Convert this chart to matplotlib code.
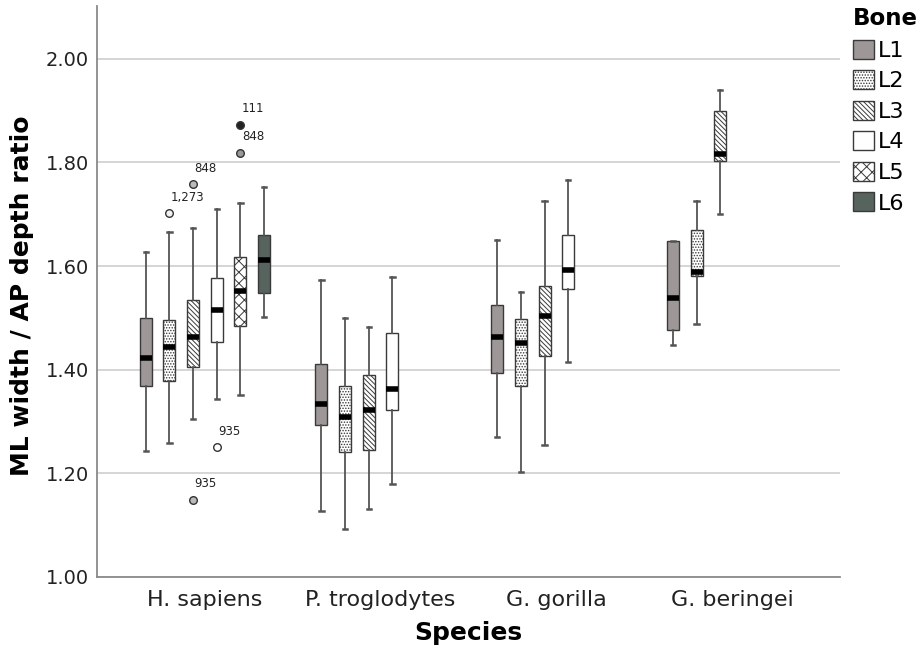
import numpy as np
import matplotlib
matplotlib.use("Agg")
import matplotlib.pyplot as plt
from matplotlib.patches import Patch

species = ["H. sapiens", "P. troglodytes", "G. gorilla", "G. beringei"]
bones = ["L1", "L2", "L3", "L4", "L5", "L6"]

# box stats, one row per bone, one column per species (nan = no data)
nan = np.nan
whisker_low = [
    [1.244, 1.128, 1.270, 1.448],
    [1.259, 1.092, 1.202, 1.488],
    [1.304, 1.131, 1.254, 1.701],
    [1.343, 1.179, 1.414, nan],
    [1.352, nan, nan, nan],
    [1.502, nan, nan, nan],
]
q1 = [
    [1.369, 1.294, 1.394, 1.477],
    [1.378, 1.242, 1.368, 1.581],
    [1.406, 1.245, 1.427, 1.802],
    [1.453, 1.322, 1.556, nan],
    [1.484, nan, nan, nan],
    [1.549, nan, nan, nan],
]
median = [
    [1.422, 1.334, 1.463, 1.539],
    [1.444, 1.309, 1.452, 1.589],
    [1.464, 1.322, 1.504, 1.816],
    [1.516, 1.363, 1.592, nan],
    [1.552, nan, nan, nan],
    [1.611, nan, nan, nan],
]
q3 = [
    [1.500, 1.412, 1.525, 1.648],
    [1.496, 1.369, 1.498, 1.669],
    [1.535, 1.389, 1.561, 1.900],
    [1.578, 1.470, 1.660, nan],
    [1.617, nan, nan, nan],
    [1.661, nan, nan, nan],
]
whisker_high = [
    [1.627, 1.574, 1.650, 1.649],
    [1.666, 1.500, 1.551, 1.725],
    [1.673, 1.482, 1.725, 1.940],
    [1.711, 1.579, 1.767, nan],
    [1.721, nan, nan, nan],
    [1.752, nan, nan, nan],
]

# labelled outliers (all H. sapiens)
outlier_species = [0, 0, 0, 0, 0, 0]
outlier_bone = [1, 2, 2, 3, 4, 4]
outlier_value = [1.702, 1.758, 1.149, 1.250, 1.872, 1.818]
outlier_label = ["1,273", "848", "935", "935", "111", "848"]
outlier_extreme = [False, False, False, False, True, False]

face_colors = ["#9e9797", "white", "white", "white", "white", "#57635d"]
hatches = [None, "......", "\\\\\\\\\\\\\\", None, "xxx", None]
flier_faces = ["#9e9797", "#f2f2f2", "#bbbbbb", "white", "#999999", "#57635d"]

plt.rcParams["hatch.linewidth"] = 0.7
plt.rcParams["font.family"] = "DejaVu Sans"

fig = plt.figure(figsize=(9.22, 6.54), dpi=100)
ax = fig.add_axes([97 / 922, 77 / 654, 743 / 922, 571 / 654])

slot = 0.1347
box_w = 0.068
cap_w = 0.024

for k, bone in enumerate(bones):
    stats, pos = [], []
    for i in range(len(species)):
        if np.isnan(median[k][i]):
            continue
        stats.append(dict(med=median[k][i], q1=q1[k][i], q3=q3[k][i],
                          whislo=whisker_low[k][i], whishi=whisker_high[k][i],
                          fliers=[]))
        pos.append(i + (k - 2.5) * slot)
    ax.bxp(stats, positions=pos, widths=box_w, capwidths=cap_w,
           patch_artist=True, showfliers=False, manage_ticks=False,
           boxprops=dict(facecolor=face_colors[k], edgecolor="#3a3a3a",
                         hatch=hatches[k], linewidth=1.0),
           medianprops=dict(color="black", linewidth=4, solid_capstyle="butt"),
           whiskerprops=dict(color="#555555", linewidth=1.3),
           capprops=dict(color="#555555", linewidth=1.8),
           zorder=3)

for s, b, v, lab, ext in zip(outlier_species, outlier_bone, outlier_value,
                             outlier_label, outlier_extreme):
    x = s + (b - 2.5) * slot
    fc = "#222222" if ext else flier_faces[b]
    ax.scatter(x, v, s=30, marker="o", facecolor=fc,
               edgecolor="#333333", linewidth=1.0, zorder=4)
    ax.annotate(lab, (x, v), xytext=(1, 7), textcoords="offset points",
                fontsize=8.5, ha="left", va="bottom", color="#222222")

ax.set_xlim(-0.614, 3.614)
ax.set_ylim(1.0, 2.102)
ax.set_yticks(np.arange(1.0, 2.01, 0.2))
ax.set_yticklabels([f"{t:.2f}" for t in np.arange(1.0, 2.01, 0.2)])
ax.set_xticks(range(len(species)))
ax.set_xticklabels(species)
ax.tick_params(axis="y", length=0, labelsize=14, pad=6, labelcolor="#222222")
ax.tick_params(axis="x", length=0, labelsize=16, pad=9, labelcolor="#222222")
ax.yaxis.grid(True, color="#d2d2d2", linewidth=1.3)
ax.set_axisbelow(True)
for side in ["top", "right"]:
    ax.spines[side].set_visible(False)
for side in ["left", "bottom"]:
    ax.spines[side].set_color("#8a8a8a")
    ax.spines[side].set_linewidth(1.3)

ax.set_xlabel("Species", fontsize=18, fontweight="bold", labelpad=8)
ax.set_ylabel("ML width / AP depth ratio", fontsize=18, fontweight="bold")
ax.yaxis.set_label_coords(-0.085, 0.492)

handles = [Patch(facecolor=face_colors[k], edgecolor="#3a3a3a",
                 hatch=hatches[k], linewidth=1.0) for k in range(len(bones))]
leg = fig.legend(handles, bones, loc="upper left",
                 bbox_to_anchor=(851 / 922, 1 - 5 / 654), frameon=False,
                 title="Bone", fontsize=16, handlelength=0.95, handleheight=0.95,
                 handletextpad=0.15, labelspacing=0.42, alignment="left",
                 borderaxespad=0, borderpad=0.1)
leg.get_title().set_fontweight("bold")
leg.get_title().set_fontsize(16.5)

fig.savefig("out.png", dpi=100)
